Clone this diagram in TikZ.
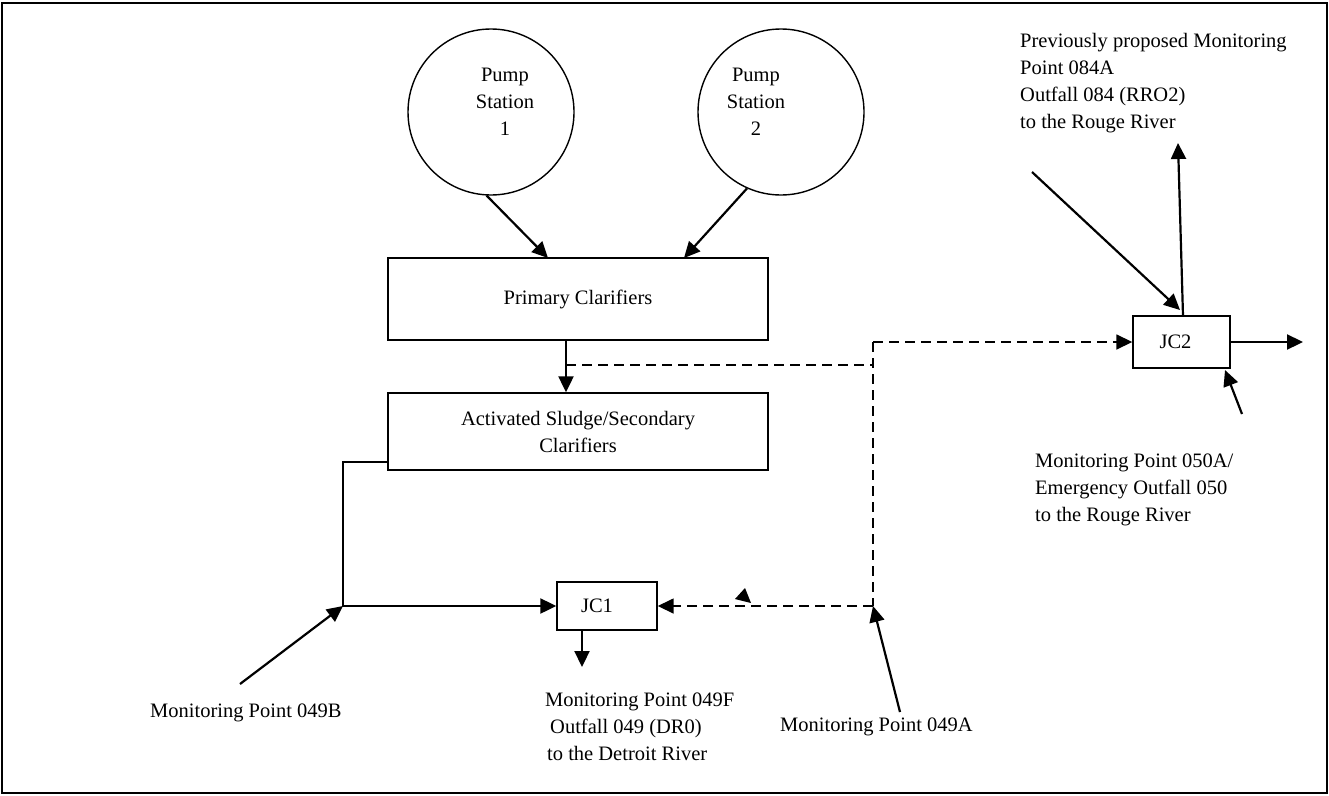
\documentclass[tikz,border=0pt]{standalone}
\usepackage{fontspec}
\setmainfont{Liberation Serif}
\usetikzlibrary{arrows.meta}

\tikzset{
  unit/.style={draw, line width=1.4pt, inner sep=0pt, align=center},
  flow/.style={line width=2.2pt, -{Triangle[length=16pt,width=15pt]}},
  bypass/.style={line width=1.6pt, dash pattern=on 10pt off 6pt},
  note/.style={inner sep=0pt, align=left, anchor=west},
}

\begin{document}
\begin{tikzpicture}[x=1pt,y=-1pt,font=\fontsize{20.5}{27}\selectfont]
      \useasboundingbox (0,0) rectangle (1329,795);
      % Draw the outer frame
      \draw[line width=1.4pt] (2,3) rectangle (1327,793);

      % Pump stations and treatment units
      \node[unit, circle, minimum size=166pt,
        label={[align=center, xshift=14pt, yshift=10pt]center:Pump\\Station\\1}] (pump1) at (491,112) {};
      \node[unit, circle, minimum size=166pt,
        label={[align=center, xshift=-25pt, yshift=10pt]center:Pump\\Station\\2}] (pump2) at (781,112) {};
      \node[unit, minimum width=380pt, minimum height=82pt] (primary) at (578,299) {Primary Clarifiers};
      \node[unit, minimum width=380pt, minimum height=77pt] (activated) at (578,431.5) {Activated Sludge/Secondary\\Clarifiers};
      \node[unit, minimum width=100pt, minimum height=48pt,
        label={[xshift=-10pt]center:JC1}] (jc1) at (607,606) {};
      \node[unit, minimum width=97pt, minimum height=52pt,
        label={[xshift=-6pt]center:JC2}] (jc2) at (1181.5,342) {};

      % Monitoring point labels
      \node[note] (mp049b) at (150,713) {Monitoring Point 049B};
      \node[note] (mp049f) at (545,727) {Monitoring Point 049F\\\hspace*{5pt}Outfall 049 (DR0)\\\hspace*{2pt}to the Detroit River};
      \node[note] (mp049a) at (780,727) {Monitoring Point 049A};
      \node[note] (mp050a) at (1035,490) {Monitoring Point 050A/\\Emergency Outfall 050\\to the Rouge River};
      \node[note] (mp084a) at (1020,83.5) {Previously proposed Monitoring\\Point 084A\\Outfall 084 (RRO2)\\to the Rouge River};

      % Bends and free ends of the pipes
      \coordinate (p1in) at (548,258);
      \coordinate (p2in) at (684,258);
      \coordinate (stem) at (566,340);
      \coordinate (tee) at (566,365);
      \coordinate (knee) at (873,365);
      \coordinate (ktop) at (873,342);
      \coordinate (kbot) at (873,606);
      \coordinate (lout) at (388,462);
      \coordinate (lbend) at (343,462);
      \coordinate (lcorner) at (343,606);
      \coordinate (jc1out) at (582,630);
      \coordinate (jc1end) at (582,667);
      \coordinate (tail049b) at (240,684);
      \coordinate (tail049a) at (900,712);
      \coordinate (jc2top) at (1183,316);
      \coordinate (upend) at (1178,143);
      \coordinate (rightend) at (1303,342);
      \coordinate (tail084a) at (1032,172);
      \coordinate (in084a) at (1180,310);
      \coordinate (tail050a) at (1242,414);
      \coordinate (in050a) at (1225,370);

      % Main flow
      \draw[flow] (pump1.-93) -- (p1in);
      \draw[flow] (pump2.-114) -- (p2in);
      \draw[flow] (stem) -- (activated.north -| stem);
      \draw[flow] (lout) -- (lbend) -- (lcorner) -- (jc1.west);
      \draw[flow] (jc1out) -- (jc1end);

      % Dashed bypass lines
      \draw[bypass] (tee) -- (knee);
      \draw[bypass] (ktop) -- (kbot);
      \draw[bypass, -{Triangle[length=16pt,width=15pt]}] (ktop) -- (jc2.west);
      \draw[bypass, -{Triangle[length=16pt,width=15pt]}] (kbot) -- (jc1.east);
      \fill (735,599) -- (745,588) -- (751,603) -- cycle;

      % Outfalls at JC2
      \draw[flow] (jc2top) -- (upend);
      \draw[flow] (jc2.east) -- (rightend);

      % Pointers from the monitoring points
      \draw[flow] (tail049b) -- (lcorner);
      \draw[flow] (tail049a) -- (kbot);
      \draw[flow] (tail084a) -- (in084a);
      \draw[flow] (tail050a) -- (in050a);
\end{tikzpicture}
\end{document}
